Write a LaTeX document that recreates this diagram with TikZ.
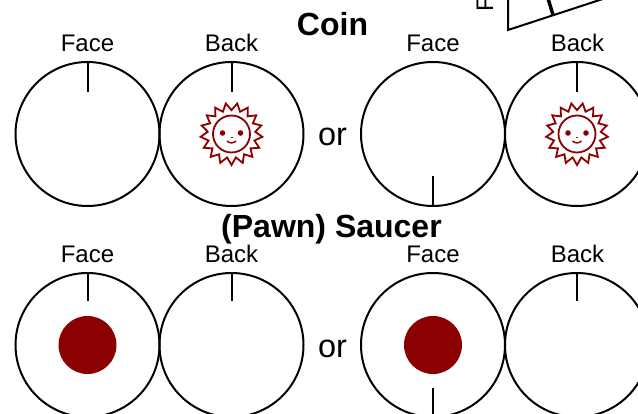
\documentclass[tikz,border=0pt]{standalone}
\usepackage{fontspec}
\setmainfont{Liberation Sans}
\usetikzlibrary{positioning}
\usetikzlibrary{shapes.geometric}
\definecolor{sunred}{HTML}{8B0000}
\tikzset{
  side/.style={circle, draw, line width=2pt, minimum size=144pt, inner sep=0pt, outer sep=0pt},
  mark line/.style={line width=2pt},
  caption/.style={font=\fontsize{24}{24}\selectfont, anchor=base},
  title/.style={font=\fontsize{32}{32}\selectfont\bfseries, anchor=base},
  orword/.style={font=\fontsize{32.5}{32.5}\selectfont, anchor=base},
  dot/.style={circle, fill=sunred, minimum size=58pt, inner sep=0pt},
  rays/.style={star, star points=17, star point ratio=1.3, shape border rotate=180, minimum size=62pt, inner sep=0pt, draw=sunred, line width=1.8pt},
  sunface/.pic={
    \node[rays] (-rays) at (0,0) {};
    \node[circle, draw=sunred, line width=1.8pt, minimum size=37pt, inner sep=0pt] (-disc) at (0,0) {};
    \fill[sunred] (-9,-1) circle (2.8) (9,-1) circle (2.8);
    \draw[sunred, line width=1.2pt] (-1,3.5) -- (1,3.5);
    \draw[sunred, line width=1.5pt] (-4.5,7) .. controls (-2,9.5) and (2,9.5) .. (4.5,7);
  }
}

\begin{document}
\begin{tikzpicture}[x=1pt, y=-1pt]
    \useasboundingbox (0,0) rectangle (638,414);
    \clip (0,0) rectangle (638,414);

    % Coin
    \node[side] (coinA) at (87.5,134) {};
    \node[side, right=0pt of coinA] (coinB) {};
    \node[side] (coinC) at (433,134) {};
    \node[side, right=0pt of coinC] (coinD) {};
    \draw[mark line] (coinA.north) -- ++(0,30);
    \draw[mark line] (coinB.north) -- ++(0,30);
    \draw[mark line] (coinC.south) -- ++(0,-30);
    \draw[mark line] (coinD.north) -- ++(0,30);
    \pic (sunB) at (coinB) {sunface};
    \pic (sunD) at (coinD) {sunface};

    % Saucer
    \node[side] (saucerA) at (87.5,345) {};
    \node[side, right=0pt of saucerA] (saucerB) {};
    \node[side] (saucerC) at (433,345) {};
    \node[side, right=0pt of saucerC] (saucerD) {};
    \draw[mark line] (saucerA.north) -- ++(0,28);
    \draw[mark line] (saucerB.north) -- ++(0,28);
    \draw[mark line] (saucerC.south) -- ++(0,-29);
    \draw[mark line] (saucerD.north) -- ++(0,28);
    \node[dot] (dotA) at (saucerA) {};
    \node[dot] (dotC) at (saucerC) {};

    % Labels
    \node[caption] (lblA) at (87.5,52) {Face};
    \node[caption] (lblB) at (231.5,52) {Back};
    \node[caption] (lblC) at (433,52) {Face};
    \node[caption] (lblD) at (577.5,52) {Back};
    \node[caption] (lblE) at (87.5,263) {Face};
    \node[caption] (lblF) at (231.5,263) {Back};
    \node[caption] (lblG) at (433,263) {Face};
    \node[caption] (lblH) at (577.5,263) {Back};
    \node[title] (coinTitle) at (332.5,36) {Coin};
    \node[title] (saucerTitle) at (331.5,238) {(Pawn) Saucer};
    \node[orword] (orA) at (332.5,146) {or};
    \node[orword] (orB) at (332.5,358) {or};

    % Tilted piece at the top
    \coordinate (corner) at (508,30);
    \draw[mark line] (508,-5) -- (corner) -- (615,-5);
    \draw[line width=3.5pt] (553,15) -- (547,-5);
    \node[caption, rotate=90, anchor=base west] (lblTop) at (493,15) {Face};
\end{tikzpicture}
\end{document}
